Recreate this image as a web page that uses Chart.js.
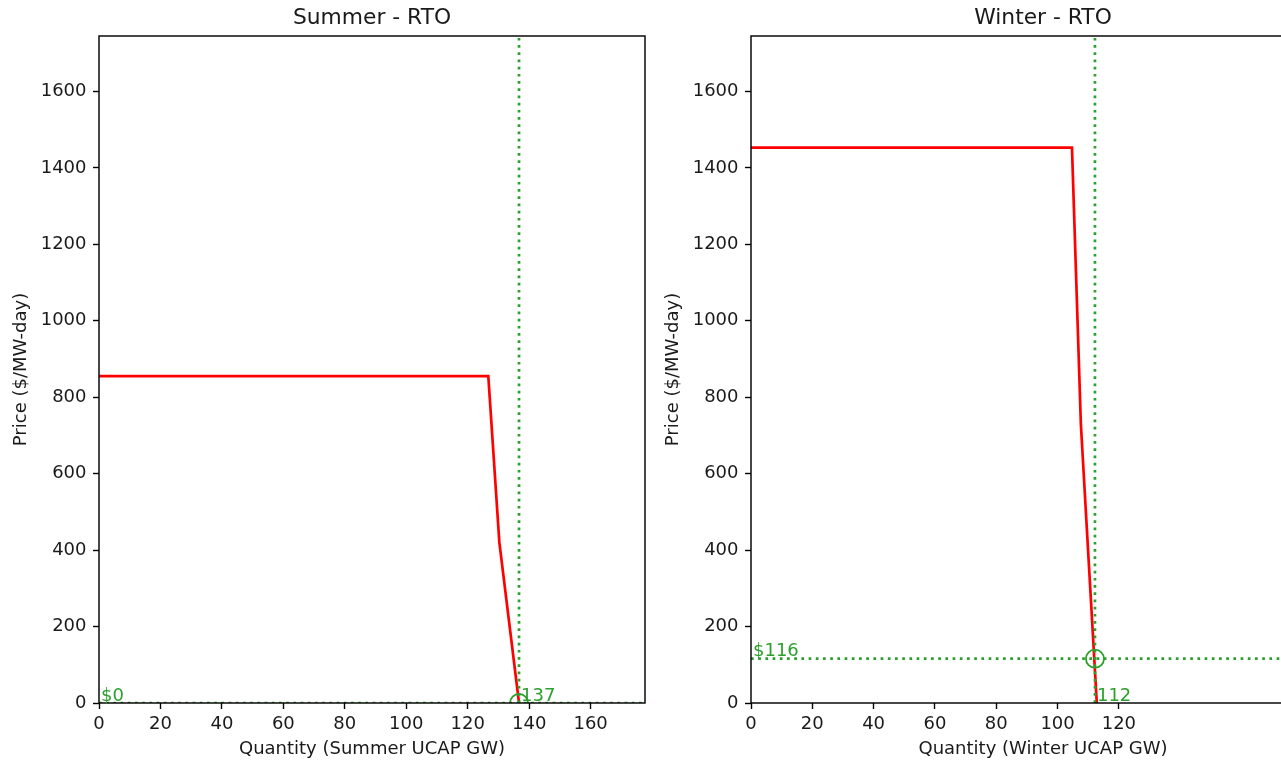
<!DOCTYPE html>
<html><head><meta charset="utf-8">
<script src="https://cdn.jsdelivr.net/npm/chart.js@4.4.0/dist/chart.umd.min.js"></script>
<style>
html,body{margin:0;padding:0;background:#fff;overflow:hidden;width:1281px;height:762px;}
#c1{position:absolute;left:0;top:0;}
#c2{position:absolute;left:652px;top:0;}
</style></head><body>
<canvas id="c1" width="660" height="762"></canvas>
<canvas id="c2" width="698" height="762"></canvas>
<script>
// ---- data ----
const summerQuantity = [0, 126.7, 130.3, 136.7];
const summerPrice    = [855, 855, 420, 0];
const winterQuantity = [0, 104.7, 107.6, 112.8];
const winterPrice    = [1453, 1453, 730, 0];
const clearedQuantity = [136.7, 112.2];
const clearedPrice    = [0, 116];
const summerXTicks = [0, 20, 40, 60, 80, 100, 120, 140, 160];
const winterXTicks = [0, 20, 40, 60, 80, 100, 120];
const priceTicks   = [0, 200, 400, 600, 800, 1000, 1200, 1400, 1600];
const xMaxValues   = [177.7, 190.5];
const yMaxValue    = 1745;
const panelTitles  = ['Summer - RTO', 'Winter - RTO'];
const xAxisTitles  = ['Quantity (Summer UCAP GW)', 'Quantity (Winter UCAP GW)'];
const yAxisTitle   = 'Price ($/MW-day)';

const FONT = "'DejaVu Sans', sans-serif";
const TXT = '#1a1a1a';
const GREEN = '#2ca02c';

function makePanel(canvasId, idx, qs, ps, xticks) {
  const cq = clearedQuantity[idx], cp = clearedPrice[idx], xMax = xMaxValues[idx];
  const curve = qs.map((q, i) => ({x: q, y: ps[i]}));
  const decor = {
    id: 'decor' + idx,
    afterDatasetsDraw(chart) {
      const {ctx, chartArea: a, scales} = chart;
      ctx.save();
      ctx.strokeStyle = '#000';
      ctx.lineWidth = 1.44;
      ctx.strokeRect(a.left, a.top, a.right - a.left, a.bottom - a.top);
      // title
      ctx.fillStyle = TXT;
      ctx.font = "21.8px " + FONT;
      ctx.textAlign = 'center';
      ctx.textBaseline = 'middle';
      ctx.fillText(panelTitles[idx], (a.left + a.right) / 2, 18.8);
      // annotations
      ctx.fillStyle = GREEN;
      ctx.font = "18px " + FONT;
      ctx.textAlign = 'left';
      ctx.textBaseline = 'alphabetic';
      const x0 = scales.x.getPixelForValue(0);
      const yP = scales.y.getPixelForValue(cp);
      ctx.fillText('$' + cp, x0 + 2, yP - 2.5);
      const xQ = scales.x.getPixelForValue(cq);
      const y0 = scales.y.getPixelForValue(0);
      ctx.fillText(String(Math.round(cq)), xQ + 2, y0 - 2.5);
      ctx.restore();
    }
  };
  return new Chart(document.getElementById(canvasId), {
    type: 'scatter',
    data: {
      datasets: [
        {data: [{x: cq, y: cp}], pointRadius: 9, pointBorderWidth: 1.8,
         pointBorderColor: GREEN, pointBackgroundColor: 'rgba(0,0,0,0)', showLine: false, clip: 0},
        {data: [{x: cq, y: 0}, {x: cq, y: yMaxValue}], showLine: true, borderColor: GREEN,
         borderWidth: 2.7, borderDash: [2.7, 4.5], pointRadius: 0, clip: 0},
        {data: [{x: 0, y: cp}, {x: xMax, y: cp}], showLine: true, borderColor: GREEN,
         borderWidth: 2.7, borderDash: [2.7, 4.5], pointRadius: 0, clip: 0},
        {data: curve, showLine: true, borderColor: '#ff0000', borderWidth: 2.7,
         pointRadius: 0, tension: 0, clip: 0}
      ]
    },
    options: {
      responsive: false, animation: false, events: [],
      layout: {padding: {top: 36, right: 15, left: 0, bottom: 0}},
      plugins: {legend: {display: false}, tooltip: {enabled: false}, title: {display: false}},
      scales: {
        x: {
          type: 'linear', min: 0, max: xMax,
          afterBuildTicks: s => { s.ticks = xticks.map(v => ({value: v})); },
          afterFit: s => { s.height = 59; },
          ticks: {color: TXT, font: {family: FONT, size: 18}, padding: 5, maxRotation: 0,
                  callback: v => String(v)},
          grid: {drawOnChartArea: false, drawTicks: true, tickLength: 6, tickWidth: 1.4,
                 color: '#000', tickColor: '#000'},
          border: {display: false},
          title: {display: true, text: xAxisTitles[idx], color: TXT,
                  font: {family: FONT, size: 18}, padding: {top: 0, bottom: 2}}
        },
        y: {
          type: 'linear', min: 0, max: yMaxValue,
          afterBuildTicks: s => { s.ticks = priceTicks.map(v => ({value: v})); },
          afterFit: s => { s.width = 99; },
          ticks: {color: TXT, font: {family: FONT, size: 18}, padding: 6.5,
                  callback: v => String(v)},
          grid: {drawOnChartArea: false, drawTicks: true, tickLength: 6, tickWidth: 1.4,
                 color: '#000', tickColor: '#000'},
          border: {display: false},
          title: {display: true, text: yAxisTitle, color: TXT,
                  font: {family: FONT, size: 18}, padding: {top: 11, bottom: 0}}
        }
      }
    },
    plugins: [decor]
  });
}

makePanel('c1', 0, summerQuantity, summerPrice, summerXTicks);
makePanel('c2', 1, winterQuantity, winterPrice, winterXTicks);
</script>
</body></html>
